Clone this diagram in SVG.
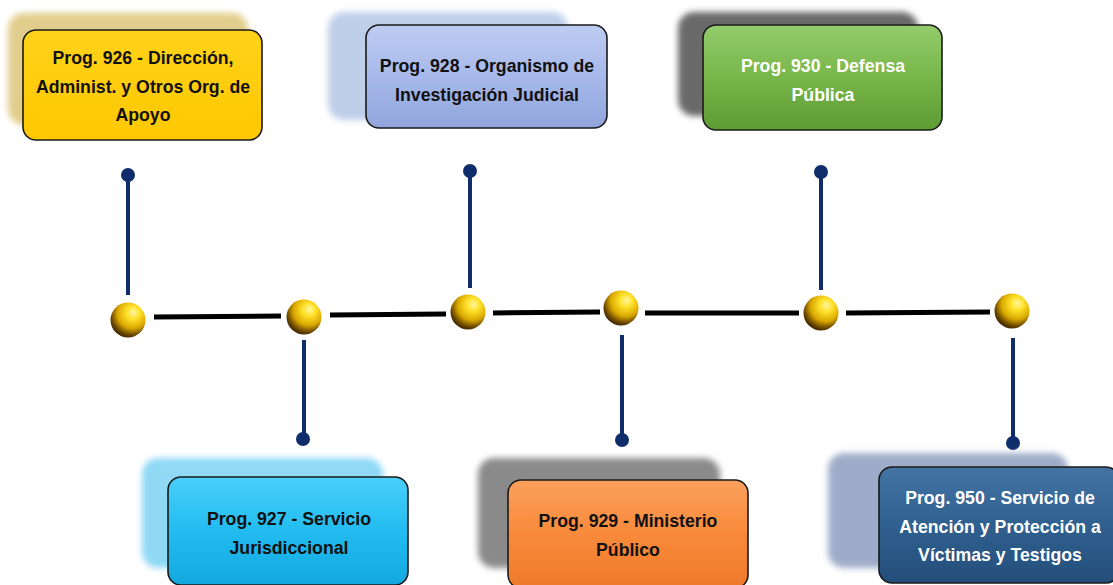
<svg xmlns="http://www.w3.org/2000/svg" width="1113" height="585" viewBox="0 0 1113 585">
<defs>
<radialGradient id="sph" cx="0.62" cy="0.32" r="0.75" fx="0.66" fy="0.28">
<stop offset="0" stop-color="#FFF7A0"/>
<stop offset="0.25" stop-color="#FFE12A"/>
<stop offset="0.58" stop-color="#D9A800"/>
<stop offset="0.82" stop-color="#6B4700"/>
<stop offset="1" stop-color="#2A1800"/>
</radialGradient>
<filter id="blur" x="-20%" y="-20%" width="140%" height="140%"><feGaussianBlur stdDeviation="3"/></filter>
<linearGradient id="gY" x1="0" y1="0" x2="0" y2="1"><stop offset="0" stop-color="#FFD21A"/><stop offset="1" stop-color="#FFC800"/></linearGradient>
<linearGradient id="gP2" x1="0" y1="0" x2="0" y2="1"><stop offset="0" stop-color="#BDCCF2"/><stop offset="0.5" stop-color="#A7B9EA"/><stop offset="1" stop-color="#91A5DC"/></linearGradient>
<linearGradient id="gG" x1="0" y1="0" x2="0" y2="1"><stop offset="0" stop-color="#93CC6C"/><stop offset="0.5" stop-color="#78B64A"/><stop offset="1" stop-color="#5E9C34"/></linearGradient>
<linearGradient id="gC" x1="0" y1="0" x2="0" y2="1"><stop offset="0" stop-color="#4ACFFA"/><stop offset="0.5" stop-color="#22BCF0"/><stop offset="1" stop-color="#12A8DE"/></linearGradient>
<linearGradient id="gO" x1="0" y1="0" x2="0" y2="1"><stop offset="0" stop-color="#FBA05C"/><stop offset="0.5" stop-color="#F98A3B"/><stop offset="1" stop-color="#EE7A2A"/></linearGradient>
<linearGradient id="gB" x1="0" y1="0" x2="0" y2="1"><stop offset="0" stop-color="#4374A4"/><stop offset="0.5" stop-color="#30608F"/><stop offset="1" stop-color="#244E7A"/></linearGradient>
</defs>
<style>
.box{stroke:#1a1a1a;stroke-width:1.6}
.sh{filter:url(#blur)}
.t{font-family:"Liberation Sans",Arial,sans-serif;font-weight:bold;font-size:17.7px;text-anchor:middle}
.dk{fill:#111}
.wt{fill:#fff}
.stem{stroke:#0F2D6B;stroke-width:4;fill:none}
.dot{fill:#0F2D6B}
.tl{stroke:#000;stroke-width:5;fill:none}
</style>
<rect width="1113" height="585" fill="#fff"/>
<g id="connectors">
<line class="tl" x1="154" y1="317" x2="281" y2="316"/>
<line class="tl" x1="330" y1="315" x2="446" y2="314"/>
<line class="tl" x1="493" y1="313" x2="600" y2="312"/>
<line class="tl" x1="645" y1="313" x2="799" y2="313"/>
<line class="tl" x1="846" y1="313" x2="990" y2="312"/>
<line class="stem" x1="128" y1="176" x2="128" y2="295"/>
<circle class="dot" cx="128" cy="175" r="7"/>
<line class="stem" x1="304" y1="340" x2="304" y2="438"/>
<circle class="dot" cx="303" cy="439" r="7"/>
<line class="stem" x1="470" y1="172" x2="470" y2="288"/>
<circle class="dot" cx="470" cy="171" r="7"/>
<line class="stem" x1="622" y1="335" x2="622" y2="440"/>
<circle class="dot" cx="622" cy="440" r="7"/>
<line class="stem" x1="821" y1="173" x2="821" y2="290"/>
<circle class="dot" cx="821" cy="172" r="7"/>
<line class="stem" x1="1013" y1="338" x2="1013" y2="442"/>
<circle class="dot" cx="1013" cy="443" r="7"/>
</g>
<g id="spheres">
<circle cx="128" cy="320" r="17.5" fill="url(#sph)"/>
<circle cx="304" cy="317" r="17.5" fill="url(#sph)"/>
<circle cx="468" cy="312" r="17.5" fill="url(#sph)"/>
<circle cx="621" cy="308" r="17.5" fill="url(#sph)"/>
<circle cx="821" cy="313" r="17.5" fill="url(#sph)"/>
<circle cx="1012" cy="311" r="17.5" fill="url(#sph)"/>
</g>
<g id="n926">
<rect class="sh" x="8" y="13" width="240" height="112" rx="16" fill="#E2CE8C"/>
<rect class="box" x="23" y="30" width="239" height="110" rx="13" fill="url(#gY)"/>
<text class="t dk" x="143" y="64">Prog. 926 - Dirección,</text>
<text class="t dk" x="143" y="93">Administ. y Otros Org. de</text>
<text class="t dk" x="143" y="121">Apoyo</text>
</g>
<g id="n928">
<rect class="sh" x="328" y="12" width="240" height="108" rx="16" fill="#B4C6E6" opacity="0.85"/>
<rect class="box" x="366" y="25" width="241" height="103" rx="13" fill="url(#gP2)"/>
<text class="t dk" x="487" y="72">Prog. 928 - Organismo de</text>
<text class="t dk" x="487" y="101">Investigación Judicial</text>
</g>
<g id="n930">
<rect class="sh" x="678" y="12" width="240" height="104" rx="16" fill="#5A5A5A" opacity="0.9"/>
<rect class="box" x="703" y="25" width="239" height="105" rx="13" fill="url(#gG)"/>
<text class="t wt" x="823" y="72">Prog. 930 - Defensa</text>
<text class="t wt" x="823" y="101">Pública</text>
</g>
<g id="n927">
<rect class="sh" x="142" y="458" width="241" height="110" rx="16" fill="#8FD9F5"/>
<rect class="box" x="168" y="477" width="240" height="108" rx="13" fill="url(#gC)"/>
<text class="t dk" x="289" y="525">Prog. 927 - Servicio</text>
<text class="t dk" x="289" y="554">Jurisdiccional</text>
</g>
<g id="n929">
<rect class="sh" x="478" y="458" width="242" height="110" rx="16" fill="#8A8A8A"/>
<rect class="box" x="508" y="480" width="240" height="108" rx="13" fill="url(#gO)"/>
<text class="t dk" x="628" y="527">Prog. 929 - Ministerio</text>
<text class="t dk" x="628" y="556">Público</text>
</g>
<g id="n950">
<rect class="sh" x="828" y="453" width="240" height="115" rx="16" fill="#8798BC" opacity="0.8"/>
<rect class="box" x="879" y="467" width="240" height="116" rx="13" fill="url(#gB)"/>
<text class="t wt" x="1000" y="504">Prog. 950 - Servicio de</text>
<text class="t wt" x="1000" y="533">Atención y Protección a</text>
<text class="t wt" x="1000" y="561">Víctimas y Testigos</text>
</g>
</svg>
